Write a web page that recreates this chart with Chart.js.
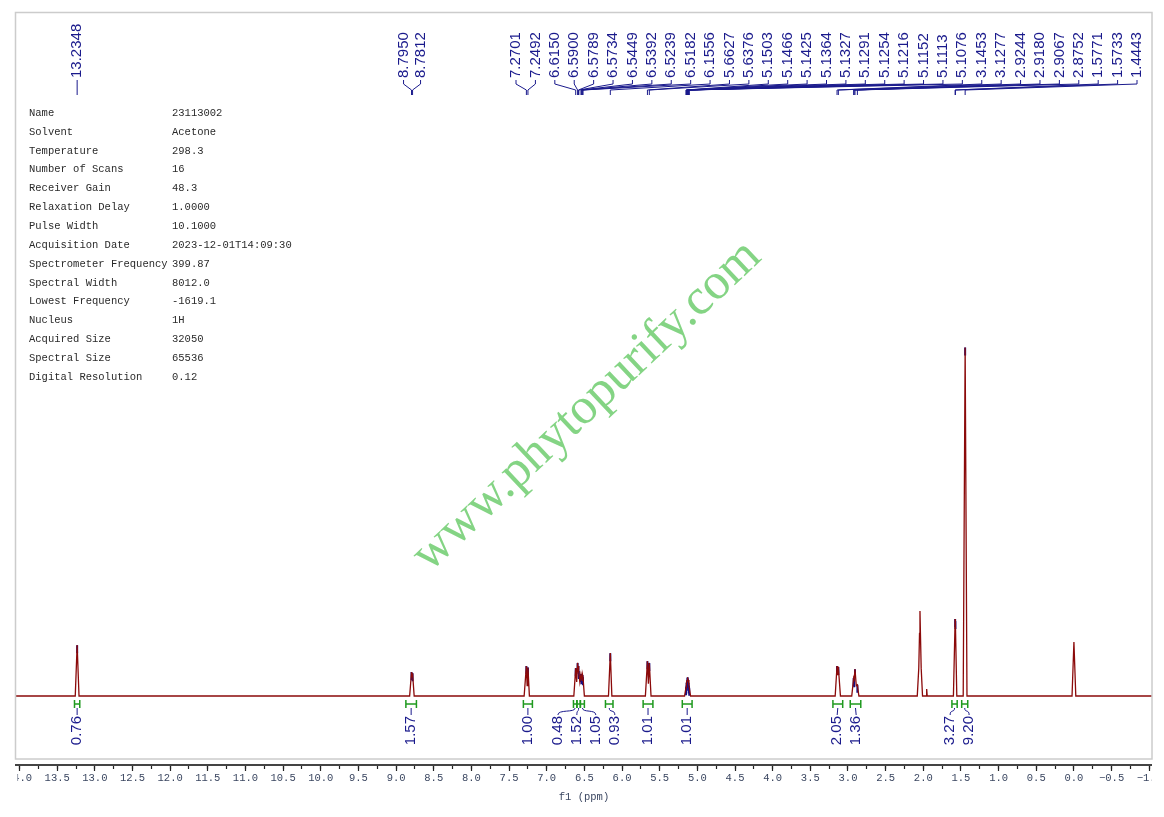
<!DOCTYPE html>
<html>
<head>
<meta charset="utf-8">
<script src="https://cdn.jsdelivr.net/npm/chart.js@4.4.0/dist/chart.umd.min.js"></script>
<style>
body { margin: 0; background: #fff; }
#nmr_canvas { display: block; }
</style>
</head>
<body>
<canvas id="nmr_canvas" width="1164" height="817"></canvas>
<script>
// spectrum trace (ppm, relative intensity; 1.4443 peak = 100)
var spec_ppm = [14.06, 13.26, 13.2348, 13.21, 8.82, 8.7950, 8.788, 8.7812, 8.76,
	7.30, 7.2701, 7.26, 7.2492, 7.23,
	6.64, 6.6150, 6.602, 6.5900, 6.5845, 6.5789, 6.5734, 6.56, 6.5449, 6.5392, 6.531, 6.5239, 6.5182, 6.50,
	6.18, 6.1556, 6.135, 5.69, 5.6627, 5.650, 5.6376, 5.615,
	5.17, 5.1503, 5.1466, 5.1425, 5.1364, 5.1327, 5.1291, 5.1254, 5.1216, 5.1152, 5.1113, 5.1076, 5.09,
	3.17, 3.1453, 3.136, 3.1277, 3.10, 2.95, 2.9244, 2.9180, 2.9067, 2.89, 2.8752, 2.855,
	2.08, 2.060, 2.050, 2.044, 2.038, 2.028, 2.01, 1.962, 1.955, 1.948,
	1.60, 1.5771, 1.575, 1.5733, 1.555, 1.47, 1.4443, 1.42, 0.025, 0.0, -0.025, -1.05];
var spec_int = [0, 0, 14.6, 0, 0, 6.9, 5.5, 6.5, 0,
	0, 8.6, 3.0, 8.2, 0,
	0, 8.0, 4.0, 9.5, 7.0, 8.6, 7.2, 4.0, 6.3, 5.7, 4.5, 6.0, 5.4, 0,
	0, 12.3, 0, 0, 10.0, 3.5, 9.5, 0,
	0, 2.5, 3.0, 3.8, 4.5, 5.2, 5.4, 5.0, 4.6, 3.8, 3.0, 2.4, 0,
	0, 8.6, 6.0, 8.3, 0, 0, 5.2, 4.8, 7.7, 3.0, 3.2, 0,
	0, 8.0, 18.0, 24.4, 18.0, 8.0, 0, 0, 2.0, 0,
	0, 22.1, 20.0, 21.5, 0, 0, 100, 0, 0, 15.5, 0, 0];

// picked peaks
var peak_ppm = [13.2348, 8.7950, 8.7812, 7.2701, 7.2492,
	6.6150, 6.5900, 6.5789, 6.5734, 6.5449, 6.5392, 6.5239, 6.5182, 6.1556, 5.6627, 5.6376,
	5.1503, 5.1466, 5.1425, 5.1364, 5.1327, 5.1291, 5.1254, 5.1216, 5.1152, 5.1113, 5.1076,
	3.1453, 3.1277, 2.9244, 2.9180, 2.9067, 2.8752, 1.5771, 1.5733, 1.4443];

// integrals
var int_from = [13.27, 8.87, 7.31, 6.645, 6.598, 6.552, 6.22, 5.72, 5.20, 3.20, 2.97, 1.62, 1.49];
var int_to = [13.20, 8.73, 7.19, 6.600, 6.555, 6.500, 6.12, 5.59, 5.07, 3.07, 2.83, 1.55, 1.41];
var int_values = ['0.76', '1.57', '1.00', '0.48', '1.52', '1.05', '0.93', '1.01', '1.01', '2.05', '1.36', '3.27', '9.20'];

// acquisition parameters
var info_names = ['Name', 'Solvent', 'Temperature', 'Number of Scans', 'Receiver Gain', 'Relaxation Delay',
	'Pulse Width', 'Acquisition Date', 'Spectrometer Frequency', 'Spectral Width', 'Lowest Frequency',
	'Nucleus', 'Acquired Size', 'Spectral Size', 'Digital Resolution'];
var info_values = ['23113002', 'Acetone', '298.3', '16', '48.3', '1.0000', '10.1000', '2023-12-01T14:09:30',
	'399.87', '8012.0', '-1619.1', '1H', '32050', '65536', '0.12'];

const LABEL_BLUE = '#1a1a8c';
const TRACE_RED = '#8b0a0a';
const TIP_LEN = 2.3;
const FAN_LEFT = 516;
const FAN_RIGHT = 1137;
const AXIS_FONT = { family: '"Liberation Mono", monospace', size: 10.5 };

function heightAt(p) {
	return spec_int[spec_ppm.indexOf(p)];
}

var trace = spec_ppm.map(function(p, i) { return {x: p, y: spec_int[i]}; });
var tips = [];
for (var i = 0; i < peak_ppm.length; ++i) {
	var h = heightAt(peak_ppm[i]);
	tips.push({x: peak_ppm[i], y: h});
	tips.push({x: peak_ppm[i], y: h - TIP_LEN});
	tips.push({x: peak_ppm[i], y: null});
}

// push crowded labels apart, keeping each cluster centred on its marks
function spreadLabels(xs, gap) {
	var groups = xs.map(function(x) { return {xs: [x], c: x}; });
	var changed = true;
	while (changed) {
		changed = false;
		for (var i = 0; i < groups.length - 1; ++i) {
			var a = groups[i], b = groups[i + 1];
			var aRight = a.c + (a.xs.length - 1) * gap / 2;
			var bLeft = b.c - (b.xs.length - 1) * gap / 2;
			if (bLeft - aRight < gap) {
				var all = a.xs.concat(b.xs);
				var c = all.reduce(function(s, v) { return s + v; }, 0) / all.length;
				groups.splice(i, 2, {xs: all, c: c});
				changed = true;
				break;
			}
		}
	}
	var out = [];
	groups.forEach(function(g) {
		g.xs.forEach(function(x, k) { out.push(g.c + (k - (g.xs.length - 1) / 2) * gap); });
	});
	return out;
}

function vText(ctx, text, x, y, align) {
	ctx.save();
	ctx.translate(x, y);
	ctx.rotate(-Math.PI / 2);
	ctx.textAlign = align;
	ctx.textBaseline = 'middle';
	ctx.fillText(text, 0, 0);
	ctx.restore();
}

var decor = {
	id: 'decor',
	afterDatasetsDraw: function(chart) {
		var ctx = chart.ctx;
		var sx = chart.scales.x;
		ctx.save();

		// watermark
		ctx.save();
		ctx.translate(587, 406);
		ctx.rotate(-43.3 * Math.PI / 180);
		ctx.font = '51px "Liberation Serif", "Times New Roman", serif';
		ctx.fillStyle = 'rgba(110, 204, 110, 0.85)';
		ctx.textAlign = 'center';
		ctx.textBaseline = 'middle';
		ctx.fillText('www.phytopurify.com', 0, 0);
		ctx.restore();

		// peak labels on top
		var px = peak_ppm.map(function(p) { return sx.getPixelForValue(p); });
		var lx = [px[0], (px[1] + px[2]) / 2 - 8.5, (px[1] + px[2]) / 2 + 8.5];
		var n = peak_ppm.length - 3;
		for (var k = 0; k < n; ++k) lx.push(FAN_LEFT + k * (FAN_RIGHT - FAN_LEFT) / (n - 1));

		ctx.strokeStyle = LABEL_BLUE;
		ctx.fillStyle = LABEL_BLUE;
		ctx.lineWidth = 1;
		ctx.font = '15px "Liberation Sans", Arial, sans-serif';
		for (var i = 0; i < peak_ppm.length; ++i) {
			vText(ctx, peak_ppm[i].toFixed(4), lx[i], 78, 'left');
			ctx.beginPath();
			ctx.moveTo(lx[i], 80);
			ctx.lineTo(lx[i], 84);
			ctx.lineTo(px[i], 90);
			ctx.lineTo(px[i], 95);
			ctx.stroke();
		}

		// integrals
		var base = chart.scales.y.getPixelForValue(0);
		var hy = base + 8;
		var mids = [];
		ctx.strokeStyle = '#1f9a1f';
		ctx.lineWidth = 1.5;
		for (var i = 0; i < int_from.length; ++i) {
			var x1 = sx.getPixelForValue(int_from[i]);
			var x2 = sx.getPixelForValue(int_to[i]);
			mids.push((x1 + x2) / 2);
			ctx.beginPath();
			ctx.moveTo(x1, hy - 4); ctx.lineTo(x1, hy + 4);
			ctx.moveTo(x2, hy - 4); ctx.lineTo(x2, hy + 4);
			ctx.moveTo(x1, hy); ctx.lineTo(x2, hy);
			ctx.stroke();
		}
		var ilx = spreadLabels(mids, 19);
		ctx.strokeStyle = LABEL_BLUE;
		ctx.fillStyle = LABEL_BLUE;
		ctx.lineWidth = 1;
		for (var i = 0; i < int_values.length; ++i) {
			var top = hy + 11;
			ctx.beginPath();
			ctx.moveTo(mids[i], hy + 4);
			if (Math.abs(ilx[i] - mids[i]) < 1) {
				ctx.lineTo(ilx[i], top);
			} else {
				ctx.bezierCurveTo(mids[i], hy + 9, ilx[i], hy + 5, ilx[i], top);
			}
			ctx.stroke();
			vText(ctx, int_values[i], ilx[i], top + 1, 'right');
		}
		ctx.restore();
	},
	afterDraw: function(chart) {
		var ctx = chart.ctx;
		ctx.save();
		// crop outside the frame
		ctx.fillStyle = '#fff';
		ctx.fillRect(0, 0, 15, chart.height);
		ctx.fillRect(0, 771, 17.5, chart.height - 771);
		ctx.fillRect(1152, 0, chart.width - 1152, chart.height);
		// frame
		ctx.strokeStyle = '#cccccc';
		ctx.lineWidth = 1.5;
		ctx.strokeRect(15.5, 12.5, 1136.5, 746.5);
		// parameter table
		ctx.fillStyle = '#2a2a2a';
		ctx.font = '10.5px "Liberation Mono", "DejaVu Sans Mono", monospace';
		ctx.textBaseline = 'middle';
		ctx.textAlign = 'left';
		for (var i = 0; i < info_names.length; ++i) {
			var y = 113 + i * 18.86;
			ctx.fillText(info_names[i], 29, y);
			ctx.fillText(info_values[i], 172, y);
		}
		ctx.restore();
	}
};

var ctx_nmr = document.getElementById('nmr_canvas').getContext('2d');
var chart = new Chart(ctx_nmr, {
	type: 'line',
	data: {
		datasets: [{
			label: 'spectrum',
			data: trace,
			borderColor: TRACE_RED,
			borderWidth: 1.3,
			pointRadius: 0,
			tension: 0,
			fill: false
		},
		{
			label: 'peaks',
			data: tips,
			borderColor: '#10108c',
			borderWidth: 2,
			pointRadius: 0,
			spanGaps: false,
			fill: false
		}]
	},
	options: {
		responsive: false,
		animation: false,
		layout: { padding: { top: 12, left: 15, right: 11, bottom: 10.8 } },
		plugins: {
			legend: { display: false },
			tooltip: { enabled: false }
		},
		scales: {
			x: {
				type: 'linear',
				reverse: true,
				min: -1.05,
				max: 14.06,
				border: { display: true, color: '#444', width: 2 },
				grid: { display: true, drawOnChartArea: false, drawTicks: true, tickLength: 6, tickColor: '#222', tickWidth: 1.2 },
				ticks: {
					stepSize: 0.5,
					autoSkip: false,
					maxRotation: 0,
					includeBounds: false,
					padding: 1,
					color: '#3a4660',
					font: AXIS_FONT,
					callback: function(v) {
						var s = Math.abs(v).toFixed(1);
						return v < -1e-6 ? '\u2212' + s : s;
					}
				},
				title: {
					display: true,
					text: 'f1 (ppm)',
					color: '#3a4660',
					padding: { top: 5, bottom: 3 },
					font: AXIS_FONT
				}
			},
			// minor ticks, laid on the main axis line
			xMinor: {
				type: 'linear',
				axis: 'x',
				reverse: true,
				min: -1.05,
				max: 14.06,
				position: { y: -19.8 },
				border: { display: false },
				grid: { display: true, drawOnChartArea: false, drawTicks: true, tickLength: 4, tickColor: '#222', tickWidth: 1.2 },
				ticks: { stepSize: 0.25, autoSkip: false, includeBounds: false, display: false }
			},
			y: {
				display: false,
				min: -19.8,
				max: 196.3
			}
		}
	},
	plugins: [decor]
});
</script>
</body>
</html>
